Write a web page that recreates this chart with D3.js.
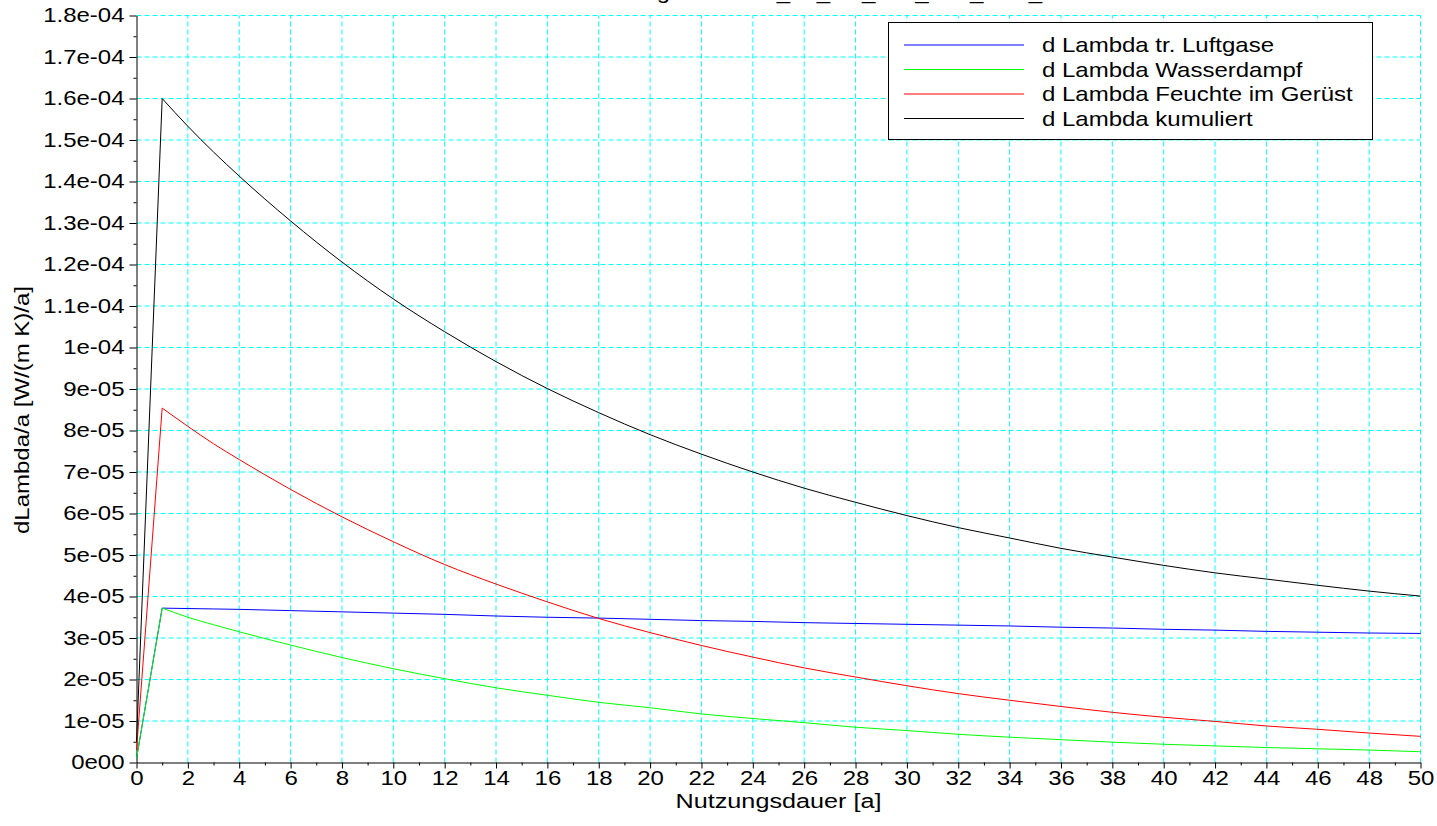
<!DOCTYPE html>
<html>
<head>
<meta charset="utf-8">
<script src="https://cdn.jsdelivr.net/npm/d3@7"></script>
<style>
    body { margin: 0; background: #fff; }
    text { font-family: "Liberation Sans", Arial, sans-serif; fill: #000; }
</style>
</head>
<body>
<svg id="chart" width="1437" height="826"></svg>
<script>
// values, in units of 1e-5 W/(m K)/a
const years = [0, 1, 2, 3, 4, 6, 8, 10, 12, 14, 16, 18, 20, 22, 24, 26, 28, 30, 32, 34, 36, 38, 40, 42, 44, 46, 48, 50];
const luftgase = [0.1, 3.72, 3.71, 3.70, 3.69, 3.66, 3.63, 3.60, 3.57, 3.53, 3.50, 3.48, 3.45, 3.42, 3.40, 3.37, 3.35, 3.33, 3.31, 3.29, 3.26, 3.24, 3.21, 3.19, 3.16, 3.14, 3.12, 3.11];
const wasserdampf = [0.1, 3.72, 3.50, 3.32, 3.15, 2.83, 2.53, 2.26, 2.02, 1.80, 1.62, 1.45, 1.32, 1.17, 1.06, 0.96, 0.85, 0.77, 0.68, 0.61, 0.55, 0.49, 0.44, 0.40, 0.36, 0.33, 0.30, 0.26];
const feuchte = [0.3, 8.54, 8.10, 7.68, 7.30, 6.58, 5.92, 5.32, 4.77, 4.30, 3.87, 3.47, 3.13, 2.82, 2.54, 2.28, 2.06, 1.85, 1.66, 1.50, 1.35, 1.21, 1.09, 0.99, 0.88, 0.80, 0.71, 0.63];
const kumuliert = [0.5, 16.0, 15.33, 14.71, 14.13, 13.05, 12.06, 11.17, 10.38, 9.66, 9.01, 8.43, 7.90, 7.43, 7.00, 6.61, 6.27, 5.95, 5.66, 5.41, 5.16, 4.95, 4.75, 4.57, 4.42, 4.27, 4.13, 4.01];

const seriesNames = ["d Lambda tr. Luftgase", "d Lambda Wasserdampf", "d Lambda Feuchte im Gerüst", "d Lambda kumuliert"];
const seriesColors = ["#0000ff", "#00ff00", "#ff0000", "#000000"];

const xTicks = d3.range(0, 51, 2);
const xMinorTicks = d3.range(1, 50, 2);
const yTicks = d3.range(0, 19, 1);
const yMinorTicks = d3.range(0.5, 18, 1);
const yTickLabels = ["0e00", "1e-05", "2e-05", "3e-05", "4e-05", "5e-05", "6e-05", "7e-05", "8e-05", "9e-05",
    "1e-04", "1.1e-04", "1.2e-04", "1.3e-04", "1.4e-04", "1.5e-04", "1.6e-04", "1.7e-04", "1.8e-04"];

const titleText = "Zeitliche Änderung dLambda_dL_LG_WD_Feu_kum_a";
const xLabel = "Nutzungsdauer [a]";
const yLabel = "dLambda/a [W/(m K)/a]";

// the original font is drawn wider than it is tall
const stretch = "scale(1.2,1)";

const svg = d3.select("#chart");

const x = d3.scaleLinear().domain([0, 50]).range([136.5, 1420.5]);
const y = d3.scaleLinear().domain([0, 18]).range([762.5, 15.5]);

// grid
const grid = svg.append("g")
    .attr("stroke", "#00ffff")
    .attr("stroke-width", 1)
    .attr("stroke-dasharray", "5,3");

grid.selectAll(".hgrid")
    .data(yTicks.slice(1))
    .enter()
    .append("line")
    .attr("x1", x(0))
    .attr("x2", x(50))
    .attr("y1", d => y(d))
    .attr("y2", d => y(d));

grid.selectAll(".vgrid")
    .data(xTicks.slice(1))
    .enter()
    .append("line")
    .attr("x1", d => x(d))
    .attr("x2", d => x(d))
    .attr("y1", y(0))
    .attr("y2", y(18));

// title, only its lower part is inside the picture
svg.append("g")
    .attr("transform", "translate(470,-1)")
    .append("text")
    .attr("transform", stretch)
    .attr("font-size", "20px")
    .text(titleText);

// axes
const yAxis = svg.append("g")
    .attr("transform", `translate(${x(0)},0)`)
    .call(d3.axisLeft(y).tickValues(yTicks).tickFormat((d, i) => yTickLabels[i]).tickSize(7).tickSizeOuter(0).tickPadding(3));

svg.append("g")
    .attr("transform", `translate(${x(0)},0)`)
    .call(d3.axisLeft(y).tickValues(yMinorTicks).tickFormat("").tickSize(3))
    .select(".domain").remove();

const xAxis = svg.append("g")
    .attr("transform", `translate(0,${y(0)})`)
    .call(d3.axisBottom(x).tickValues(xTicks).tickSize(6).tickSizeOuter(0).tickPadding(2));

svg.append("g")
    .attr("transform", `translate(0,${y(0)})`)
    .call(d3.axisBottom(x).tickValues(xMinorTicks).tickFormat("").tickSize(3))
    .select(".domain").remove();

[yAxis, xAxis].forEach(ax => {
    ax.selectAll("text")
        .attr("font-size", "20px")
        .attr("font-family", "'Liberation Sans', Arial, sans-serif")
        .attr("fill", "#000")
        .attr("transform", stretch);
});
svg.selectAll(".tick line, .domain").attr("stroke", "#000");

// axis labels
svg.append("text")
    .attr("transform", `translate(${(x(0) + x(50)) / 2},808) ${stretch}`)
    .attr("text-anchor", "middle")
    .attr("font-size", "21px")
    .text(xLabel);

svg.append("text")
    .attr("transform", `translate(29,410) rotate(-90) ${stretch}`)
    .attr("text-anchor", "middle")
    .attr("font-size", "20px")
    .text(yLabel);

// lines: straight rise to year 1, smooth decay afterwards
const series = [luftgase, wasserdampf, feuchte, kumuliert];
const rise = d3.line().x(d => x(d[0])).y(d => y(d[1]));
const decay = d3.line().x(d => x(d[0])).y(d => y(d[1])).curve(d3.curveMonotoneX);

series.forEach((vals, i) => {
    const pts = years.map((yr, j) => [yr, vals[j]]);
    svg.append("path")
        .attr("d", rise(pts.filter(p => p[0] <= 1)))
        .attr("fill", "none")
        .attr("stroke", seriesColors[i])
        .attr("stroke-width", 1);
    svg.append("path")
        .attr("d", decay(pts.filter(p => p[0] >= 1)))
        .attr("fill", "none")
        .attr("stroke", seriesColors[i])
        .attr("stroke-width", 1);
});

// legend
const legend = svg.append("g");
legend.append("rect")
    .attr("x", 888.5)
    .attr("y", 22.5)
    .attr("width", 484)
    .attr("height", 117)
    .attr("fill", "#fff")
    .attr("stroke", "#000")
    .attr("stroke-width", 1);

const rows = legend.selectAll(".row")
    .data(seriesNames)
    .enter()
    .append("g")
    .attr("transform", (d, i) => `translate(0,${45 + i * 24.5})`);

rows.append("line")
    .attr("x1", 904)
    .attr("x2", 1024)
    .attr("y1", 0)
    .attr("y2", 0)
    .attr("stroke", (d, i) => seriesColors[i])
    .attr("stroke-width", 1);

rows.append("text")
    .attr("transform", `translate(1042,7) ${stretch}`)
    .attr("font-size", "20px")
    .text(d => d);
</script>
</body>
</html>
